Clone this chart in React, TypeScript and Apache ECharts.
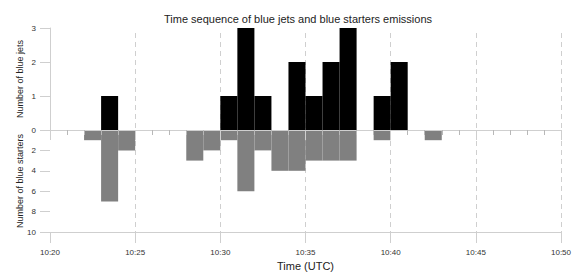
import React, { useEffect, useRef } from "react";
import * as echarts from "echarts";

// one-minute bins starting at 10:20 (index 0) to 10:49 (index 29)
const binLabels = [
  "10:20", "10:21", "10:22", "10:23", "10:24", "10:25", "10:26", "10:27", "10:28", "10:29",
  "10:30", "10:31", "10:32", "10:33", "10:34", "10:35", "10:36", "10:37", "10:38", "10:39",
  "10:40", "10:41", "10:42", "10:43", "10:44", "10:45", "10:46", "10:47", "10:48", "10:49",
];
const blueJets = [0, 0, 0, 1, 0, 0, 0, 0, 0, 0, 1, 3, 1, 0, 2, 1, 2, 3, 0, 1, 2, 0, 0, 0, 0, 0, 0, 0, 0, 0];
const blueStarters = [0, 0, 1, 7, 2, 0, 0, 0, 3, 2, 1, 6, 2, 4, 4, 3, 3, 3, 0, 1, 0, 0, 1, 0, 0, 0, 0, 0, 0, 0];
const xTickLabels = ["10:20", "10:25", "10:30", "10:35", "10:40", "10:45", "10:50"];

const FONT = "Liberation Sans, Arial, Helvetica, sans-serif";
const AXIS_GRAY = "#cfcfcf";

function toData(values: number[]) {
  return values.map((v, i) => [i, v, binLabels[i]]);
}

function rectRender(color: string) {
  return (params: any, api: any) => {
    const start = api.value(0) as number;
    const v = api.value(1) as number;
    if (!v) return null;
    const p0 = api.coord([start, 0]);
    const p1 = api.coord([start + 1, v]);
    return {
      type: "rect",
      shape: {
        x: Math.min(p0[0], p1[0]),
        y: Math.min(p0[1], p1[1]),
        width: Math.abs(p1[0] - p0[0]),
        height: Math.abs(p1[1] - p0[1]),
      },
      style: { fill: color },
    };
  };
}

export default function App() {
  const ref = useRef<HTMLDivElement>(null);
  useEffect(() => {
    if (!ref.current) return;
    const chart = echarts.init(ref.current, undefined, { renderer: "svg" });
    const xFormatter = (v: number) => xTickLabels[Math.round(v / 5)] ?? "";
    chart.setOption({
      animation: false,
      backgroundColor: "#ffffff",
      textStyle: { fontFamily: FONT },
      title: {
        text: "Time sequence of blue jets and blue starters emissions",
        left: 293,
        textAlign: "center",
        top: 8,
        textStyle: { fontFamily: FONT, fontSize: 11, fontWeight: "normal", color: "#222" },
      },
      grid: [
        { left: 50, width: 511, top: 28, height: 102 },
        { left: 50, width: 511, top: 130, height: 102 },
        { left: 50, width: 511, top: 33, height: 210 },
      ],
      xAxis: [
        {
          gridIndex: 0,
          type: "value",
          min: 0,
          max: 30,
          interval: 5,
          position: "bottom",
          z: 5,
          axisLine: { show: true, onZero: false, lineStyle: { color: AXIS_GRAY, width: 1 } },
          axisTick: { show: true, length: 10, lineStyle: { color: AXIS_GRAY } },
          minorTick: { show: true, splitNumber: 5, length: 5, lineStyle: { color: "#b8b8b8" } },
          axisLabel: { show: false },
          splitLine: { show: false },
        },
        {
          gridIndex: 1,
          type: "value",
          min: 0,
          max: 30,
          interval: 5,
          position: "bottom",
          axisLine: { show: true, onZero: false, lineStyle: { color: AXIS_GRAY, width: 1 } },
          axisTick: { show: true, length: 11, lineStyle: { color: AXIS_GRAY } },
          axisLabel: { show: true, margin: 16, fontSize: 8, color: "#333", fontFamily: FONT, formatter: xFormatter },
          splitLine: { show: false },
          name: "Time (UTC)",
          nameLocation: "middle",
          nameGap: 28,
          nameMoveOverlap: false,
          nameTextStyle: { fontSize: 11, color: "#222", fontFamily: FONT },
        },
        {
          gridIndex: 2,
          type: "value",
          min: 0,
          max: 30,
          interval: 5,
          axisLine: { show: false, onZero: false },
          axisTick: { show: false },
          axisLabel: { show: false },
          splitLine: {
            show: true,
            showMinLine: false,
            lineStyle: { color: AXIS_GRAY, type: [5, 4], width: 1 },
          },
        },
      ],
      yAxis: [
        {
          gridIndex: 0,
          type: "value",
          min: 0,
          max: 3,
          interval: 1,
          axisLine: { show: true, onZero: false, lineStyle: { color: AXIS_GRAY, width: 1 } },
          axisTick: { show: true, length: 10, lineStyle: { color: AXIS_GRAY } },
          axisLabel: { margin: 14, fontSize: 8, color: "#333", fontFamily: FONT },
          splitLine: { show: false },
          name: "Number of blue jets",
          nameLocation: "middle",
          nameGap: 26,
          nameMoveOverlap: false,
          nameTextStyle: { fontSize: 9, color: "#222", fontFamily: FONT },
        },
        {
          gridIndex: 1,
          type: "value",
          inverse: true,
          min: 0,
          max: 10,
          interval: 2,
          axisLine: { show: false, onZero: false },
          axisTick: { show: true, length: 10, lineStyle: { color: AXIS_GRAY } },
          axisLabel: { margin: 14, fontSize: 8, color: "#333", fontFamily: FONT, showMinLabel: false },
          splitLine: { show: false },
          name: "Number of blue starters",
          nameLocation: "middle",
          nameGap: 26,
          nameMoveOverlap: false,
          nameTextStyle: { fontSize: 9, color: "#222", fontFamily: FONT },
        },
        {
          gridIndex: 2,
          type: "value",
          min: 0,
          max: 1,
          show: false,
        },
      ],
      series: [
        {
          name: "Blue jets",
          type: "custom",
          xAxisIndex: 0,
          yAxisIndex: 0,
          z: 2,
          renderItem: rectRender("#000000"),
          encode: { x: 0, y: 1 },
          data: toData(blueJets),
        },
        {
          name: "Blue starters",
          type: "custom",
          xAxisIndex: 1,
          yAxisIndex: 1,
          z: 2,
          renderItem: rectRender("#808080"),
          encode: { x: 0, y: 1 },
          data: toData(blueStarters),
        },
      ],
    });
    return () => chart.dispose();
  }, []);
  return (
    <div
      ref={ref}
      style={{ position: "fixed", left: 0, top: 0, width: 576, height: 276, background: "#fff" }}
    />
  );
}
